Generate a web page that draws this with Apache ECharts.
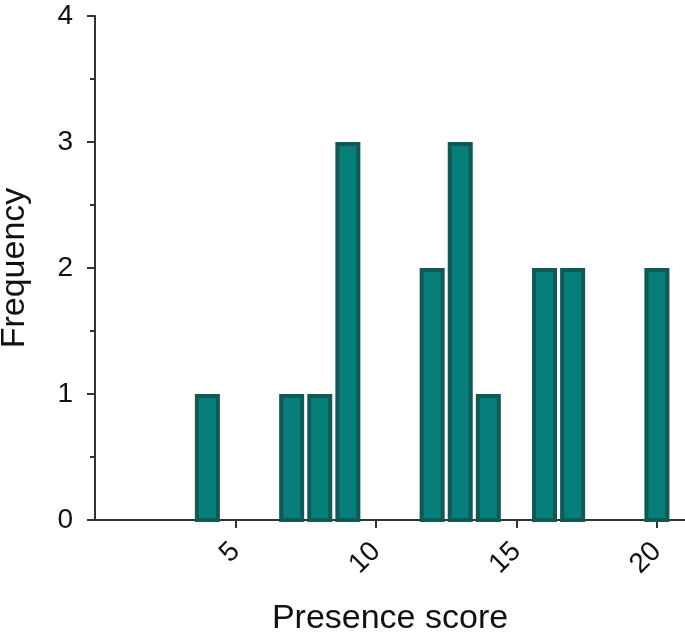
<!DOCTYPE html>
<html>
<head>
<meta charset="utf-8">
<script src="https://cdn.jsdelivr.net/npm/echarts@6/dist/echarts.min.js"></script>
<style>
html,body{margin:0;padding:0;background:#fff;}
#chart{width:685px;height:637px;}
</style>
</head>
<body>
<div id="chart"></div>
<script>
const scores = [4, 7, 8, 9, 12, 13, 14, 16, 17, 20];
const frequencies = [1, 1, 1, 3, 2, 3, 1, 2, 2, 2];
const xTicks = [5, 10, 15, 20];
const yTicks = [0, 1, 2, 3, 4];

const data = scores.map((s, i) => [s, frequencies[i]]);
const FONT = '"Liberation Sans", Arial, Helvetica, sans-serif';
const AX = '#333333';

const chart = echarts.init(document.getElementById('chart'), null, {renderer: 'canvas'});
chart.setOption({
  animation: false,
  backgroundColor: '#ffffff',
  grid: {left: 95, right: 0, top: 16, bottom: 117, containLabel: false, outerBoundsMode: 'none'},
  xAxis: {
    type: 'value', min: 0, max: 21, interval: 5,
    name: 'Presence score', nameLocation: 'middle', nameGap: 82,
    nameTextStyle: {fontFamily: FONT, fontSize: 34, color: '#111'},
    axisLine: {show: true, onZero: false, lineStyle: {color: AX, width: 2}},
    axisTick: {show: true, length: 8, customValues: xTicks, lineStyle: {color: AX, width: 2}},
    axisLabel: {customValues: xTicks, rotate: 45, margin: 27, fontFamily: FONT, fontSize: 28, color: '#111'},
    splitLine: {show: false}
  },
  yAxis: {
    type: 'value', min: 0, max: 4, interval: 1,
    name: 'Frequency', nameLocation: 'middle', nameGap: 63, nameRotate: 90,
    nameTextStyle: {fontFamily: FONT, fontSize: 34, color: '#111'},
    axisLine: {show: true, lineStyle: {color: AX, width: 2}},
    axisTick: {show: true, length: 8, lineStyle: {color: AX, width: 2}},
    minorTick: {show: true, splitNumber: 2, length: 5, lineStyle: {color: AX, width: 2}},
    axisLabel: {margin: 22, fontFamily: FONT, fontSize: 28, color: '#111',
      formatter: v => yTicks.includes(v) ? String(v) : ''},
    splitLine: {show: false}
  },
  series: [{
    type: 'custom',
    data: data,
    encode: {x: 0, y: 1},
    z: 1,
    renderItem: function (params, api) {
      const x = api.value(0), y = api.value(1);
      const top = api.coord([x, y]);
      const base = api.coord([x, 0]);
      const w = api.size([0.89, 0])[0];
      const bw = 4;
      return {
        type: 'rect',
        shape: {x: top[0] - w / 2 + bw / 2, y: top[1] + bw / 2, width: w - bw, height: base[1] - top[1] - bw / 2},
        style: {fill: '#067f7a', stroke: '#115955', lineWidth: bw}
      };
    }
  }]
});
</script>
</body>
</html>
